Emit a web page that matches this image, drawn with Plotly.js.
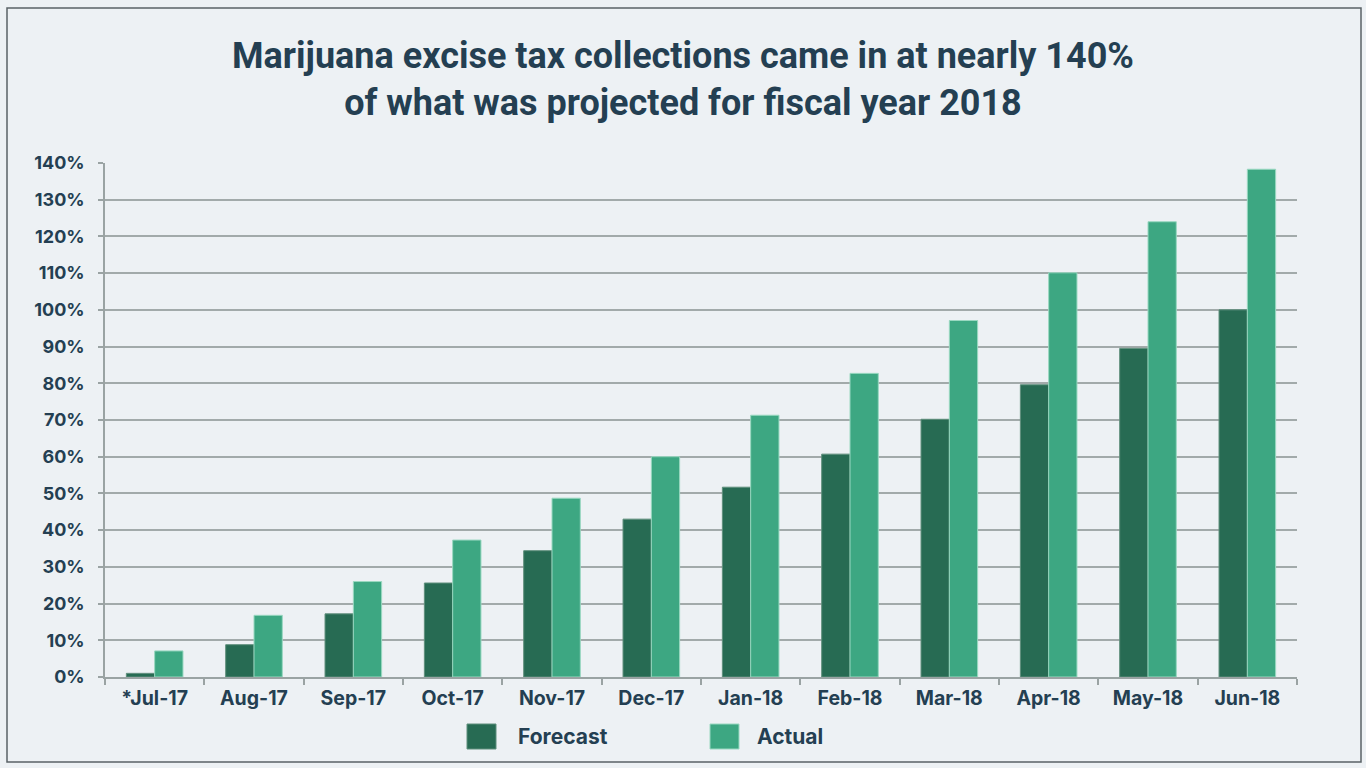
<!DOCTYPE html>
<html>
<head>
<meta charset="utf-8">
<script src="https://cdn.plot.ly/plotly-3.0.1.min.js"></script>
<style>
html,body{margin:0;padding:0;background:#edf1f4;}
#chart{width:1366px;height:768px;}
</style>
</head>
<body>
<div id="chart"></div>
<script>
var months = ["*Jul-17","Aug-17","Sep-17","Oct-17","Nov-17","Dec-17","Jan-18","Feb-18","Mar-18","Apr-18","May-18","Jun-18"];
var forecast = [1, 8.8, 17.2, 25.6, 34.4, 43, 51.7, 60.7, 70.2, 79.6, 89.5, 100];
var actual = [7.1, 16.8, 26, 37.3, 48.7, 60, 71.3, 82.7, 97.1, 110.1, 124, 138.3];
var yTicks = [0,10,20,30,40,50,60,70,80,90,100,110,120,130,140];
var yTickText = yTicks.map(function(v){return v + "%";});

var textColor = "#243f52";
var cForecast = "#276b53";
var cActual = "#3da782";

var traces = [
  {type:"bar", name:"Forecast", x:months, y:forecast,
   marker:{color:cForecast, line:{color:"#5f8f7c", width:1}}, hoverinfo:"x+y"},
  {type:"bar", name:"Actual", x:months, y:actual,
   marker:{color:cActual, line:{color:"#9ad8c1", width:1}}, hoverinfo:"x+y"}
];

var W = 1366, H = 768, L = 105, R = 69, T = 163, B = 91;
var pw = W - L - R, ph = H - T - B;
function px(x){return (x - L)/pw;}
function py(y){return (H - B - y)/ph;}

var layout = {
  width: W, height: H,
  paper_bgcolor: "#edf1f4", plot_bgcolor: "#edf1f4",
  margin: {l:L, r:R, t:T, b:B, pad:0},
  barmode: "group", bargap: 0.43, bargroupgap: 0,
  showlegend: false,
  font: {family:"Inter, Roboto, sans-serif", color:textColor},
  title: {
    text: "Marijuana excise tax collections came in at nearly 140%<br>of what was projected for fiscal year 2018",
    font: {family:"Roboto, sans-serif", size:36, weight:700, color:textColor},
    x: 0.5, xref:"container", xanchor:"center",
    y: 1 - 68/768, yref:"container", yanchor:"middle"
  },
  xaxis: {
    type:"category", tickson:"boundaries",
    ticks:"outside", ticklen:6, tickcolor:"#9aa3a3", tickwidth:1.5,
    showline:true, linecolor:"#9aa3a3", linewidth:1.5,
    showgrid:false,
    tickfont:{family:"Inter, sans-serif", size:19.5, weight:700, color:textColor},
    ticklabelstandoff: 3
  },
  yaxis: {
    range:[0,140], tickvals:yTicks, ticktext:yTickText,
    ticks:"outside", ticklen:5, tickcolor:"#9aa3a3", tickwidth:1.5,
    showline:true, linecolor:"#9aa3a3", linewidth:1.5,
    gridcolor:"#a2aaaa", gridwidth:1.5,
    zeroline:false,
    tickfont:{family:"Inter, sans-serif", size:18, weight:700, color:textColor},
    ticklabelstandoff: 10
  },
  shapes: [
    {type:"rect", xref:"paper", yref:"paper",
     x0:px(7), x1:px(1361), y0:py(8), y1:py(762),
     line:{color:"#5a6266", width:1.5}, fillcolor:"rgba(0,0,0,0)", layer:"below"},
    {type:"rect", xref:"paper", yref:"paper",
     x0:px(467), x1:px(496), y0:py(724), y1:py(749),
     fillcolor:cForecast, line:{color:"#5f8f7c", width:1}},
    {type:"rect", xref:"paper", yref:"paper",
     x0:px(710), x1:px(739), y0:py(724), y1:py(749),
     fillcolor:cActual, line:{color:"#9ad8c1", width:1}}
  ],
  annotations: [
    {xref:"paper", yref:"paper", x:px(516), y:py(736), xanchor:"left", yanchor:"middle",
     text:"Forecast", showarrow:false,
     font:{family:"Inter, sans-serif", size:21, weight:700, color:textColor}},
    {xref:"paper", yref:"paper", x:px(755), y:py(736), xanchor:"left", yanchor:"middle",
     text:"Actual", showarrow:false,
     font:{family:"Inter, sans-serif", size:21, weight:700, color:textColor}}
  ]
};

Plotly.newPlot("chart", traces, layout, {displayModeBar:false, responsive:false});
</script>
</body>
</html>
